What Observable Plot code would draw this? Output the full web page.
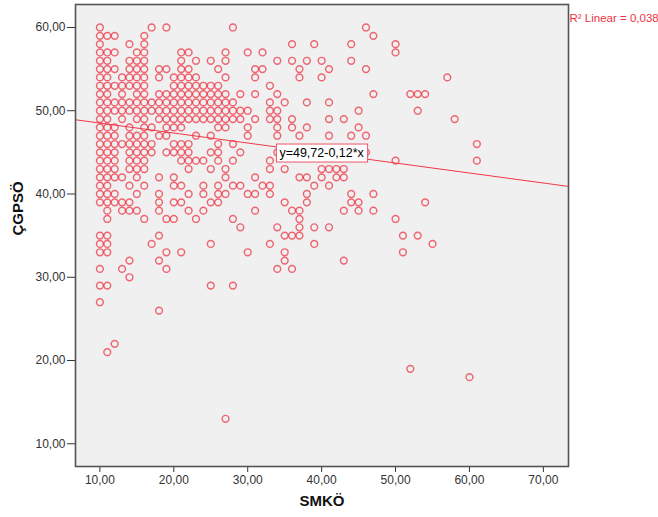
<!DOCTYPE html>
<html>
<head>
<meta charset="utf-8">
<script src="https://cdn.jsdelivr.net/npm/d3@7"></script>
<script src="https://cdn.jsdelivr.net/npm/@observablehq/plot@0.6"></script>
<style>
  html, body { margin: 0; padding: 0; background: #fff; }
  svg { overflow: visible; }
</style>
</head>
<body>
<div id="chart"></div>
<script>
// ÇGPSÖ levels (y) and the SMKÖ values (x) observed at each level
const cgpsoLevels = [60,59,58,57,56,55,54,53,52,51,50,49,48,47,46,45,44,43,42,41,40,39,38,37,36,35,34,33,32,31,30,29,27,26,22,21,19,18,13];
const smkoAtLevel = [
  [10,17,19,28,46],
  [10,11,12,16,47],
  [10,14,16,36,39,44,50],
  [10,11,12,15,16,21,22,27,30,32,50],
  [10,11,14,15,16,21,23,25,27,34,36,38,40,44],
  [10,11,12,14,15,16,18,19,21,22,26,31,32,37,41,46],
  [10,11,13,14,15,16,18,20,21,22,23,27,31,37,40,57],
  [10,11,12,13,14,15,16,20,21,22,23,24,25,26,33],
  [10,11,13,15,16,18,19,20,21,22,23,24,25,26,27,29,31,34,47,52,53,54],
  [10,11,12,13,14,15,16,17,18,19,20,21,22,23,24,25,26,27,28,33,35,38,41],
  [10,11,12,13,14,15,16,17,18,19,20,21,22,23,24,25,26,27,28,29,30,33,34,45,53],
  [10,11,13,15,16,18,19,20,21,22,23,24,25,26,27,28,29,31,33,34,36,41,43,58],
  [10,11,12,14,16,17,19,20,21,26,27,30,34,36,38,45],
  [10,11,12,14,15,16,18,19,23,25,30,34,37,41,44,46],
  [10,11,12,13,14,15,16,17,20,21,22,26,28,61],
  [10,11,12,14,15,16,17,19,20,21,22,25,26,29,34,46],
  [10,11,12,14,15,16,21,22,23,24,26,28,33,50,61],
  [10,11,12,14,15,16,22,25,27,33,35,40,41,42,43],
  [10,11,12,13,15,18,20,27,31,37,38,40,42,43],
  [10,11,14,16,20,21,24,26,28,29,32,33,39,41],
  [10,11,12,15,18,22,24,26,27,30,31,33,38,44,47],
  [10,11,12,13,14,18,20,21,25,26,35,38,44,45,54],
  [11,13,14,15,18,22,24,31,36,37,43,45,47],
  [11,16,19,20,23,28,37,50],
  [29,34,37,39,41],
  [10,11,18,35,36,37,51,53],
  [10,11,17,25,33,39,55],
  [10,11,19,21,30,35,51],
  [14,18,35,43],
  [10,13,19,34,36],
  [14],
  [10,11,25,28],
  [10],
  [18],
  [12],
  [11],
  [52],
  [60],
  [27]
];

// Fit line reported on the chart
const intercept = 49.72;
const slope = -0.12;
const equationText = "y=49,72-0,12*x";
const r2Text = "R\u00B2 Linear = 0,038";
const equationAtX = 40;

const xTicks = [10,20,30,40,50,60,70];
const yTicks = [10,20,30,40,50,60];
const xTitle = "SMKÖ";
const yTitle = "ÇGPSÖ";

const xDomain = [6.7, 73.4];
const yDomain = [7.27, 62.76];

const points = cgpsoLevels.flatMap((y, i) => smkoAtLevel[i].map(x => ({x, y})));
const fitLine = xDomain.map(x => ({x, y: intercept + slope * x}));
const eqPoint = [{x: equationAtX, y: intercept + slope * equationAtX, t: equationText}];

const fmt = d => d3.format(".2f")(d).replace(".", ",");
const red = "#ee2233";

const chart = Plot.plot({
  width: 658,
  height: 517,
  marginLeft: 75,
  marginRight: 90,
  marginTop: 4,
  marginBottom: 51,
  style: {background: "#fff", fontFamily: "'Liberation Sans', Arial, sans-serif", fontSize: "12px", color: "#333"},
  x: {domain: xDomain, ticks: xTicks, tickFormat: fmt, tickSize: 6, tickPadding: 3, label: null},
  y: {domain: yDomain, ticks: yTicks, tickFormat: fmt, tickSize: 8, tickPadding: 2, label: null},
  marks: [
    Plot.frame({fill: "#f0f0f0", stroke: null}),
    Plot.dot(points, {x: "x", y: "y", r: 3.4, stroke: red, strokeOpacity: 0.68, strokeWidth: 1.45, fill: "none"}),
    Plot.line(fitLine, {x: "x", y: "y", stroke: "#f03848", strokeWidth: 1}),
    Plot.frame({stroke: "#555", strokeWidth: 1.6}),
    Plot.text(eqPoint, {x: "x", y: "y", text: "t", fill: "#000", fontSize: 12.5, textAnchor: "middle"}),
    Plot.text([r2Text], {text: d => d, frameAnchor: "top-right", dx: 1, dy: 9, textAnchor: "start", fill: "#ee3344", fontSize: 11.5}),
    Plot.text([yTitle], {text: d => d, frameAnchor: "left", dx: -57, rotate: -90, fontWeight: "bold", fontSize: 15, fill: "#111"}),
    Plot.text([xTitle], {text: d => d, frameAnchor: "bottom", dy: 39, fontWeight: "bold", fontSize: 15, fill: "#111"})
  ]
});

document.getElementById("chart").appendChild(chart);

// white box with red border behind the equation label
d3.select(chart).selectAll("text").each(function() {
  if (this.textContent === equationText) {
    const b = this.getBBox();
    const g = this.parentNode;
    d3.select(g).insert("rect", () => this)
      .attr("transform", this.getAttribute("transform"))
      .attr("x", b.x - 3).attr("y", b.y - 2)
      .attr("width", b.width + 6).attr("height", b.height + 4)
      .attr("fill", "#fff").attr("stroke", "#ee5566").attr("stroke-width", 1);
  }
});
</script>
</body>
</html>
